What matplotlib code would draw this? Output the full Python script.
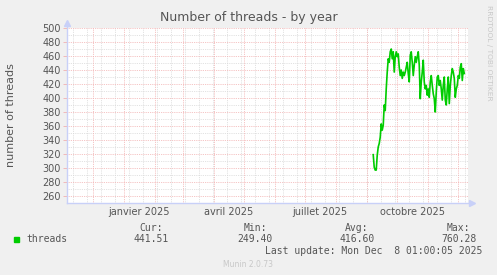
import numpy as np
import pandas as pd
import matplotlib
matplotlib.use("Agg")
import matplotlib.pyplot as plt
import matplotlib.dates as mdates
from matplotlib import transforms

start_day = "2025-09-07"
threads = [319, 301, 297, 297, 318, 330, 335, 344, 363, 354,
           361, 390, 382, 413, 437, 456, 451, 466, 470, 456,
           466, 437, 459, 466, 459, 463, 444, 432, 440, 428,
           437, 432, 437, 444, 451, 435, 423, 461, 466, 451,
           432, 447, 459, 451, 459, 466, 447, 399, 423, 437,
           454, 423, 413, 418, 404, 413, 401, 423, 432, 418,
           406, 399, 380, 409, 430, 432, 418, 425, 413, 397,
           418, 430, 397, 390, 413, 430, 392, 418, 432, 442,
           437, 428, 401, 413, 418, 432, 428, 444, 449, 425,
           442, 435]
month_labels = ["janvier 2025", "avril 2025", "juillet 2025", "octobre 2025"]
month_label_days = ["2025-01-16", "2025-04-16", "2025-07-16", "2025-10-16"]
y_ticks = list(range(260, 501, 20))
stat_names = ["Cur:", "Min:", "Avg:", "Max:"]
stat_values = ["441.51", "249.40", "416.60", "760.28"]
last_update = "Last update: Mon Dec  8 01:00:05 2025"

W, H = 497, 275
BG = "#f0f0f0"
TXT = "#555555"
AXIS = "#c8d0f8"
MAJ = "#f2b0b0"
MIN = "#d8d8d8"


def px(x, y):
    return x / W, 1 - y / H


fig = plt.figure(figsize=(W / 100, H / 100), dpi=100, facecolor=BG)
ax = fig.add_axes([66.7 / W, 1 - 202.7 / H, (468 - 66.7) / W, (202.7 - 28) / H])
ax.set_facecolor("white")

dates = pd.date_range(start_day, periods=len(threads), freq="D")

# grid first
x0 = pd.Timestamp("2024-11-04 17:00")
x1 = pd.Timestamp("2025-12-10 17:00")
for d in pd.date_range("2024-11-11", "2025-12-31", freq="14D"):
    ax.axvline(d, color=MIN, lw=0.6, dashes=(1, 1.2), zorder=0.5)
for v in range(270, 500, 20):
    ax.axhline(v, color=MIN, lw=0.6, dashes=(1, 1.2), zorder=0.5)
for d in pd.date_range("2024-12-01", "2025-12-31", freq="MS"):
    ax.axvline(d, color=MAJ, lw=0.6, dashes=(1, 1.2), zorder=0.6)
for v in y_ticks:
    ax.axhline(v, color=MAJ, lw=0.6, dashes=(1, 1.2), zorder=0.6)

ax.plot(dates, threads, color="#00cc00", lw=1.2, zorder=3)

ax.set_xlim(x0, x1)
ax.set_ylim(250.4, 500)
ax.set_yticks(y_ticks)
ax.set_yticklabels([str(v) for v in y_ticks])
ax.set_xticks([])
ax.tick_params(axis="y", length=3, width=0.6, color=MAJ, pad=1,
               labelsize=7, labelcolor=TXT)
for s in ax.spines.values():
    s.set_visible(False)

# axis lines with arrows
ax.plot([0, 0], [0, 1.03], transform=ax.transAxes, color=AXIS, lw=1, clip_on=False)
ax.plot([0, 1.01], [0, 0], transform=ax.transAxes, color=AXIS, lw=1, clip_on=False)
ax.plot([0], [1.03], marker="^", ms=4, color=AXIS, transform=ax.transAxes, clip_on=False)
ax.plot([1.01], [0], marker=">", ms=4, color=AXIS, transform=ax.transAxes, clip_on=False)

tr = transforms.blended_transform_factory(ax.transData, ax.transAxes)
for lab, d in zip(month_labels, month_label_days):
    ax.text(pd.Timestamp(d), -0.025, lab, transform=tr, ha="center", va="top",
            fontsize=7, color=TXT)

fig.text(*px(248.5, 18), "Number of threads - by year", ha="center", va="center",
         fontsize=9, color=TXT)
fig.text(*px(11.5, 115), "number of threads", rotation=90, ha="center", va="center",
         fontsize=8, color=TXT)
fig.text(*px(488.5, 5), "RRDTOOL / TOBI OETIKER", rotation=270, ha="center", va="top",
         fontsize=5.4, color="#c8c8c8")

# legend block
mono = "DejaVu Sans Mono"
fig.patches.append(plt.Rectangle(px(14, 241.7), 5.3 / W, 5 / H, transform=fig.transFigure,
                                 color="#00cc00"))
fig.text(*px(26.7, 239), "threads", family=mono, fontsize=7, color=TXT, va="center")
name_right = [163, 267, 368, 470]
val_right = [169, 273, 375, 477]
for n, v, xn, xv in zip(stat_names, stat_values, name_right, val_right):
    fig.text(*px(xn, 228), n, family=mono, fontsize=7, color=TXT, ha="right", va="center")
    fig.text(*px(xv, 239), v, family=mono, fontsize=7, color=TXT, ha="right", va="center")
fig.text(*px(482, 251.5), last_update, family=mono, fontsize=7, color=TXT,
         ha="right", va="center")
fig.text(*px(248, 264.5), "Munin 2.0.73", fontsize=5.5, color="#c8c8c8",
         ha="center", va="center")

fig.savefig("out.png", dpi=100, facecolor=BG)
